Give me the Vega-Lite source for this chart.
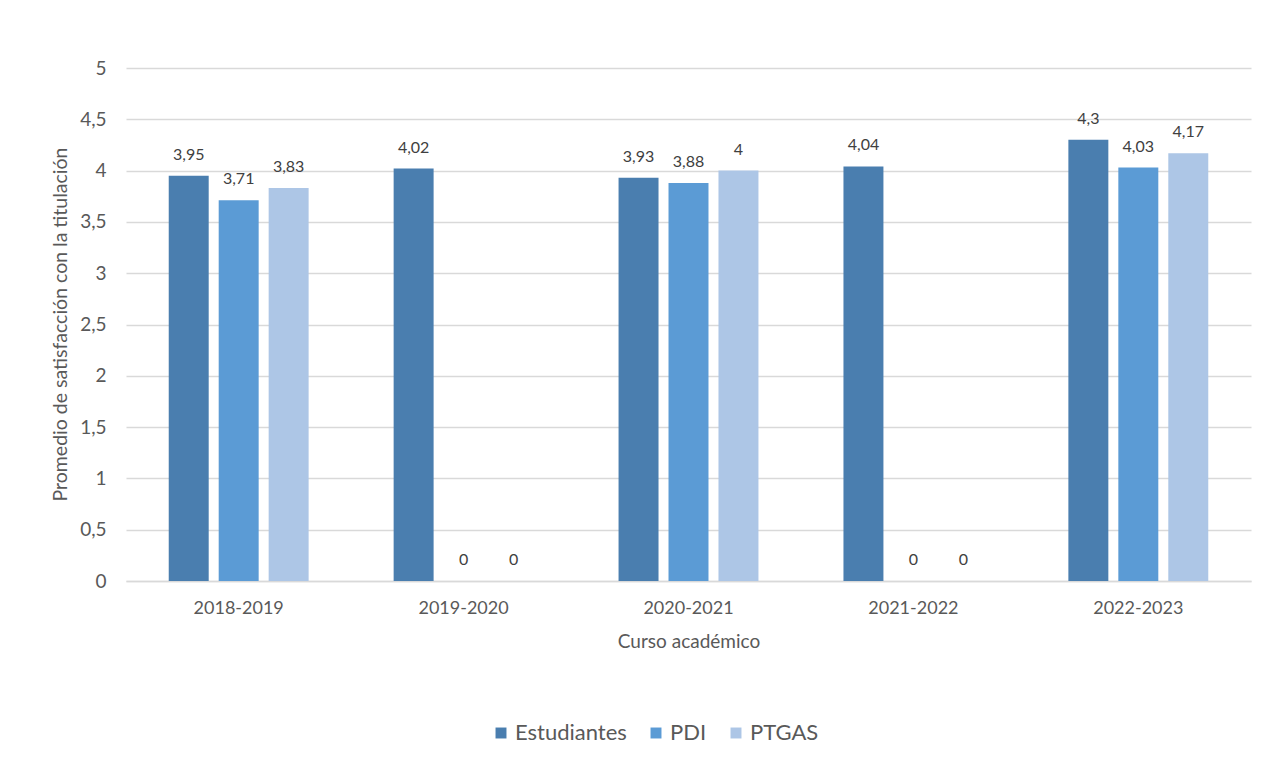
{
  "$schema": "https://vega.github.io/schema/vega-lite/v6.json",
  "autosize": {"type": "none"},
  "width": 1125,
  "height": 513,
  "padding": {"left": 126, "top": 68, "right": 36, "bottom": 186},
  "background": "white",
  "config": {
    "font": "Lato",
    "view": {"stroke": null},
    "locale": {"number": {"decimal": ",", "thousands": ".", "grouping": [3], "currency": ["", " €"]}}
  },
  "data": {
    "values": [
      {"curso": "2018-2019", "grupo": "Estudiantes", "valor": 3.95},
      {"curso": "2018-2019", "grupo": "PDI", "valor": 3.71},
      {"curso": "2018-2019", "grupo": "PTGAS", "valor": 3.83},
      {"curso": "2019-2020", "grupo": "Estudiantes", "valor": 4.02},
      {"curso": "2019-2020", "grupo": "PDI", "valor": 0},
      {"curso": "2019-2020", "grupo": "PTGAS", "valor": 0},
      {"curso": "2020-2021", "grupo": "Estudiantes", "valor": 3.93},
      {"curso": "2020-2021", "grupo": "PDI", "valor": 3.88},
      {"curso": "2020-2021", "grupo": "PTGAS", "valor": 4},
      {"curso": "2021-2022", "grupo": "Estudiantes", "valor": 4.04},
      {"curso": "2021-2022", "grupo": "PDI", "valor": 0},
      {"curso": "2021-2022", "grupo": "PTGAS", "valor": 0},
      {"curso": "2022-2023", "grupo": "Estudiantes", "valor": 4.3},
      {"curso": "2022-2023", "grupo": "PDI", "valor": 4.03},
      {"curso": "2022-2023", "grupo": "PTGAS", "valor": 4.17}
    ]
  },
  "encoding": {
    "x": {
      "field": "curso", "type": "nominal",
      "scale": {"paddingInner": 0.378, "paddingOuter": 0.19},
      "axis": {
        "title": "Curso académico", "labelAngle": 0, "ticks": false,
        "domainColor": "#d9d9d9", "domainWidth": 1.5,
        "labelFontSize": 18, "labelColor": "#595959", "labelPadding": 18,
        "titleFontSize": 19, "titleColor": "#595959", "titleFontWeight": "normal", "titlePadding": 15
      }
    },
    "xOffset": {"field": "grupo", "type": "nominal", "scale": {"paddingInner": 0.2, "paddingOuter": 0}},
    "y": {
      "field": "valor", "type": "quantitative",
      "scale": {"domain": [0, 5]},
      "axis": {
        "title": "Promedio de satisfacción con la titulación",
        "values": [0, 0.5, 1, 1.5, 2, 2.5, 3, 3.5, 4, 4.5, 5],
        "format": ".1~f", "domain": false, "ticks": false,
        "gridColor": "#d9d9d9", "gridWidth": 1.5,
        "labelFontSize": 19, "labelColor": "#595959", "labelPadding": 20,
        "titleFontSize": 19.5, "titleColor": "#595959", "titleFontWeight": "normal",
        "titleX": -66, "titleY": 256, "titleAlign": "center", "titleBaseline": "middle"
      }
    }
  },
  "layer": [
    {
      "mark": {"type": "bar"},
      "encoding": {
        "color": {
          "field": "grupo", "type": "nominal",
          "scale": {"domain": ["Estudiantes", "PDI", "PTGAS"], "range": ["#4a7eaf", "#5b9bd5", "#adc6e6"]},
          "legend": {
            "title": null, "orient": "none", "direction": "horizontal",
            "legendX": 364, "legendY": 654,
            "symbolType": "square", "symbolSize": 120, "symbolStrokeWidth": 0, "symbolOpacity": 1,
            "labelFontSize": 22, "labelColor": "#595959", "columnPadding": 18, "labelOffset": 3
          }
        }
      }
    },
    {
      "mark": {"type": "text", "baseline": "bottom", "dy": -13, "fontSize": 16, "color": "#404040"},
      "encoding": {
        "text": {"field": "valor", "type": "quantitative", "format": ".2~f"}
      }
    }
  ]
}
